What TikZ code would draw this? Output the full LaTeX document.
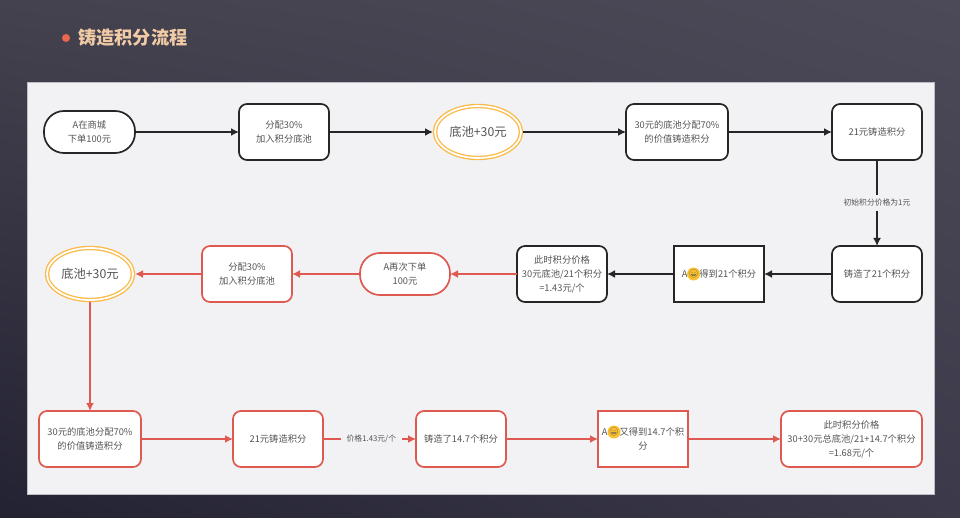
\documentclass[tikz,border=0pt]{standalone}
\usepackage{fontspec}
\setmainfont{Noto Sans CJK SC}
\newfontfamily\emojifont{Noto Emoji}
\usetikzlibrary{arrows.meta,shapes.geometric,shadings}
\definecolor{panelbg}{HTML}{F2F2F5}
\definecolor{paneledge}{HTML}{BDBDC6}
\definecolor{textgray}{HTML}{555555}
\definecolor{redline}{HTML}{DE5A50}
\definecolor{poolring}{HTML}{FBB946}
\definecolor{titlepeach}{HTML}{F1CBA6}
\definecolor{dotred}{HTML}{E9674E}
\definecolor{faceyellow}{HTML}{FBC02D}
\definecolor{bgtopleft}{HTML}{45424F}
\definecolor{bgtopright}{HTML}{4C4958}
\definecolor{bgbotleft}{HTML}{232233}
\definecolor{bgbotright}{HTML}{3C3A4A}
\tikzset{
  flowbox/.style={draw=black!85,fill=white,line width=1.7pt,inner sep=0pt,outer sep=0pt,align=center,text=textgray,font=\fontsize{9.3}{14}\selectfont},
  redbox/.style={flowbox,draw=redline},
  roundbox/.style={flowbox,rounded corners=8pt},
  redround/.style={redbox,rounded corners=8pt},
  pillbox/.style={flowbox,rounded corners=20pt},
  redpill/.style={redbox,rounded corners=20pt},
  poolnode/.style={ellipse,draw=poolring,fill=white,double=white,double distance=1.8pt,line width=1.3pt,inner sep=0pt,outer sep=2pt,align=center,text=textgray,font=\fontsize{12.3}{14}\selectfont,minimum width=86pt,minimum height=52pt},
  facenode/.style={circle,fill=faceyellow,inner sep=0pt,minimum size=10.5pt,text=textgray,font=\fontsize{8}{8}\selectfont\emojifont},
  flowarrow/.style={draw=black!85,line width=1.7pt,-{Latex[length=8pt,width=8pt]}},
  redarrow/.style={flowarrow,draw=redline,fill=redline},
  arrowlabel/.style={fill=panelbg,inner xsep=6pt,inner ysep=4pt,text=textgray,font=\fontsize{7.8}{10}\selectfont},
}
\begin{document}
\begin{tikzpicture}[x=1pt,y=-1pt]
\useasboundingbox (0,0) rectangle (960,518);
\shade[shading=bilinear interpolation,upper left=bgtopleft,upper right=bgtopright,lower left=bgbotleft,lower right=bgbotright] (0,0) rectangle (960,518);
\draw[fill=panelbg,draw=paneledge,line width=0.6pt] (27,82) rectangle (934,494);
\node[circle,fill=dotred,minimum size=8pt,inner sep=0pt] (bullet) at (66,38) {};
\node[anchor=west,inner sep=0pt,text=titlepeach,font=\fontsize{18.2}{20}\selectfont\bfseries] (title) at (78,38) {铸造积分流程};

\node[pillbox,minimum width=91pt,minimum height=42pt] (mall) at (89.5,132) {A在商城\\下单100元};
\node[roundbox,minimum width=90pt,minimum height=56pt] (alloc) at (284,132) {分配30\%\\加入积分底池};
\node[poolnode] (pool) at (478,132) {底池+30元};
\node[roundbox,minimum width=102pt,minimum height=56pt] (share) at (677,132) {30元的底池分配70\%\\的价值铸造积分};
\node[roundbox,minimum width=90pt,minimum height=56pt] (mint) at (877,132) {21元铸造积分};

\node[roundbox,minimum width=90pt,minimum height=56pt] (minted) at (877,274) {铸造了21个积分};
\node[flowbox,minimum width=90pt,minimum height=56pt] (got) at (719,274) {A\hspace{12pt}得到21个积分};
\node[facenode] (gotface) at (693.6,274) {😄};
\node[roundbox,minimum width=90pt,minimum height=56pt] (price) at (562,274) {此时积分价格\\30元底池/21个积分\\=1.43元/个};
\node[redpill,minimum width=90pt,minimum height=42pt] (again) at (405,274) {A再次下单\\100元};
\node[redround,minimum width=90pt,minimum height=56pt] (allocb) at (247,274) {分配30\%\\加入积分底池};
\node[poolnode] (poolb) at (90,274) {底池+30元};

\node[redround,minimum width=102pt,minimum height=56pt] (shareb) at (90,439) {30元的底池分配70\%\\的价值铸造积分};
\node[redround,minimum width=90pt,minimum height=56pt] (mintb) at (278,439) {21元铸造积分};
\node[redround,minimum width=90pt,minimum height=56pt] (mintedb) at (461,439) {铸造了14.7个积分};
\node[redbox,minimum width=90pt,minimum height=56pt] (gotb) at (643,439) {A\hspace{12pt}又得到14.7个积\\分};
\node[facenode] (gotbface) at (614,432) {😄};
\node[redround,minimum width=141pt,minimum height=56pt] (priceb) at (851.5,439) {此时积分价格\\30+30元总底池/21+14.7个积分\\=1.68元/个};

\draw[flowarrow] (mall) -- (alloc);
\draw[flowarrow] (alloc) -- (pool);
\draw[flowarrow] (pool) -- (share);
\draw[flowarrow] (share) -- (mint);
\draw[flowarrow] (mint) -- node[arrowlabel] {初始积分价格为1元} (minted);
\draw[flowarrow] (minted) -- (got);
\draw[flowarrow] (got) -- (price);
\draw[redarrow] (price) -- (again);
\draw[redarrow] (again) -- (allocb);
\draw[redarrow] (allocb) -- (poolb);
\draw[redarrow] (poolb) -- (shareb);
\draw[redarrow] (shareb) -- (mintb);
\draw[redarrow] (mintb) -- node[arrowlabel,pos=0.52] {价格1.43元/个} (mintedb);
\draw[redarrow] (mintedb) -- (gotb);
\draw[redarrow] (gotb) -- (priceb);
\end{tikzpicture}
\end{document}
